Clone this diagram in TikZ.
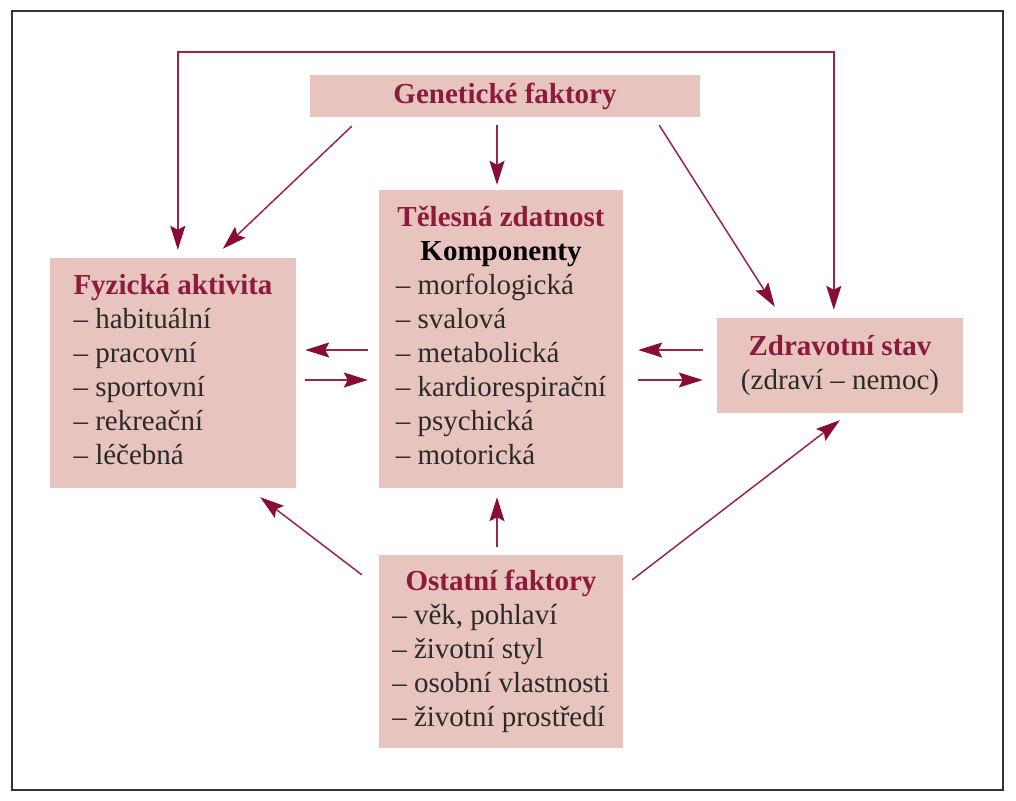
\documentclass[tikz,border=0pt]{standalone}
\usepackage{fontspec}
\setmainfont{Liberation Serif}
\usetikzlibrary{arrows.meta}

\definecolor{boxpink}{HTML}{E8C4BE}
\definecolor{titlered}{HTML}{8C1A3C}
\definecolor{linered}{HTML}{9A2548}
\definecolor{tipred}{HTML}{880C34}
\definecolor{textgray}{HTML}{2A2A2A}

\newcommand{\boxtitle}[1]{\multicolumn{1}{@{}c@{}}{\textbf{\color{titlered}#1}}}

\begin{document}
\begin{tikzpicture}[x=1pt, y=-1pt,
			every node/.style = {font=\fontsize{29}{34}\selectfont, text=textgray},
			box/.style = {fill=boxpink, inner sep=0pt},
			>={Stealth[length=24pt, width=15pt, inset=4pt, color=tipred]},
			arr/.style = {draw=linered, line width=1.5pt, ->}]
		\useasboundingbox (0,0) rectangle (1016,800);
		\draw[line width=1.5pt, draw=black!80] (12,11) rectangle (1003,790);

		\node[box, minimum width=390pt, minimum height=42pt] (gen) at (505,96)
			{\textbf{\color{titlered}Genetické faktory}};
		\node[box, minimum width=244pt, minimum height=298pt] (tel) at (501,339)
			{\begin{tabular}{@{}l@{}}
				\boxtitle{Tělesná zdatnost}\\
				\multicolumn{1}{@{}c@{}}{\textbf{\color{black}Komponenty}}\\
				– morfologická\\
				– svalová\\
				– metabolická\\
				– kardiorespirační\\
				– psychická\\
				– motorická
			\end{tabular}};
		\node[box, minimum width=246pt, minimum height=230pt] (fyz) at (173,373)
			{\begin{tabular}{@{}l@{}}
				\boxtitle{Fyzická aktivita}\\
				– habituální\\
				– pracovní\\
				– sportovní\\
				– rekreační\\
				– léčebná
			\end{tabular}};
		\node[box, minimum width=246pt, minimum height=95pt] (zdr) at (840,365.5)
			{\begin{tabular}{@{}c@{}}
				\textbf{\color{titlered}Zdravotní stav}\\
				(zdraví – nemoc)
			\end{tabular}};
		\node[box, minimum width=244pt, minimum height=193pt] (ost) at (501,651.5)
			{\begin{tabular}{@{}l@{}}
				\boxtitle{Ostatní faktory}\\
				– věk, pohlaví\\
				– životní styl\\
				– osobní vlastnosti\\
				– životní prostředí
			\end{tabular}};

		% loop over the top
		\coordinate (top) at (505,52);
		\draw[arr, <->] ([xshift=128pt, yshift=8pt]fyz.north west) |- (top)
			-| ([xshift=117pt, yshift=8pt]zdr.north west);

		% from the genetic factors
		\draw[arr] ([xshift=42pt, yshift=-9pt]gen.south west) -- ([xshift=173pt, yshift=9pt]fyz.north west);
		\draw[arr] ([xshift=-8pt, yshift=-8pt]gen.south) -- ([xshift=-4pt, yshift=5pt]tel.north);
		\draw[arr] ([xshift=-41pt, yshift=-8pt]gen.south east) -- ([xshift=58pt, yshift=11pt]zdr.north west);

		% both ways between the middle boxes
		\draw[arr] ([xshift=-11pt, yshift=-11pt]tel.west) -- ([xshift=9pt, yshift=23pt]fyz.east);
		\draw[arr] ([xshift=9pt, yshift=-7pt]fyz.east) -- ([xshift=-11pt, yshift=-41pt]tel.west);
		\draw[arr] ([xshift=-14pt, yshift=15.5pt]zdr.west) -- ([xshift=15pt, yshift=-11pt]tel.east);
		\draw[arr] ([xshift=15pt, yshift=-41pt]tel.east) -- ([xshift=-14pt, yshift=-14.5pt]zdr.west);

		% from the other factors
		\draw[arr] ([xshift=-17pt, yshift=-20pt]ost.north west) -- ([xshift=-36pt, yshift=-9pt]fyz.south east);
		\draw[arr] ([xshift=-4pt, yshift=8pt]ost.north) -- ([xshift=-4pt, yshift=-9pt]tel.south);
		\draw[arr] ([xshift=9pt, yshift=-25pt]ost.north east) -- ([xshift=123pt, yshift=-7pt]zdr.south west);
\end{tikzpicture}
\end{document}
